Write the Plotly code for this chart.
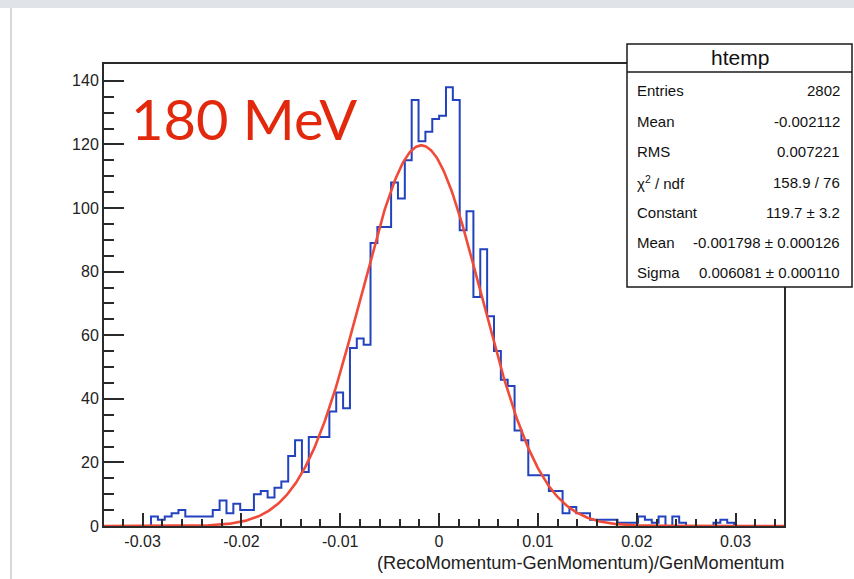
import numpy as np
import plotly.graph_objects as go

# ---- histogram "htemp": 100 bins starting at BIN_START ----
BIN_START = -0.034
BIN_WIDTH = 0.000694
COUNTS = [
    0, 0, 0, 0, 0, 0, 0, 3, 2, 3,
    4, 5, 3, 3, 3, 3, 5, 8, 4, 7,
    5, 5, 10, 11, 9, 12, 14, 22, 27, 17,
    28, 28, 28, 36, 42, 37, 56, 59, 57, 89,
    94, 94, 108, 103, 115, 134, 121, 124, 128, 129,
    138, 134, 93, 99, 72, 87, 66, 55, 46, 44,
    30, 27, 16, 16, 16, 11, 11, 4, 6, 4,
    4, 2, 2, 2, 2, 1, 1, 1, 3, 2,
    1, 3, 0, 3, 1, 0, 0, 0, 0, 1,
    2, 1, 0, 0, 0, 0, 0, 0, 0, 0,
]

# ---- gaussian fit parameters ----
FIT_CONSTANT = 119.7
FIT_MEAN = -0.001798
FIT_SIGMA = 0.006081

# ---- axes ----
X_RANGE = [-0.0339, 0.0349]
Y_RANGE = [0, 145.3]
X_TICKS = [-0.03, -0.02, -0.01, 0.0, 0.01, 0.02, 0.03]
X_TICK_LABELS = ["-0.03", "-0.02", "-0.01", "0", "0.01", "0.02", "0.03"]
Y_TICKS = [0, 20, 40, 60, 80, 100, 120, 140]
Y_TICK_LABELS = ["0", "20", "40", "60", "80", "100", "120", "140"]
X_TITLE = "(RecoMomentum-GenMomentum)/GenMomentum"
ENERGY_LABEL = "180 MeV"

# ---- statistics box ----
STATS_TITLE = "htemp"
STATS_NAMES = ["Entries", "Mean", "RMS", "χ<sup>2</sup> / ndf",
               "Constant", "Mean", "Sigma"]
STATS_VALUES = ["2802", "-0.002112", "0.007221", "158.9 / 76",
                "119.7 ± 3.2", "-0.001798 ± 0.000126", "0.006081 ± 0.000110"]

# ---- page geometry (pixels) ----
W, H = 854, 579
L, R, T, B = 104, 784, 64, 526

def px(x):
    return (x - L) / (R - L)

def py(y):
    return (B - y) / (B - T)

FONT = "Liberation Sans, Arial, Helvetica, sans-serif"
INK = "#222222"

edges = BIN_START + BIN_WIDTH * np.arange(len(COUNTS) + 1)
step_y = COUNTS + [COUNTS[-1]]

xf = np.linspace(X_RANGE[0], X_RANGE[1], 600)
yf = FIT_CONSTANT * np.exp(-0.5 * ((xf - FIT_MEAN) / FIT_SIGMA) ** 2)

fig = go.Figure()
fig.add_trace(go.Scatter(
    x=edges, y=step_y, mode="lines", line_shape="hv",
    line=dict(color="#2343be", width=2), hoverinfo="skip"))
fig.add_trace(go.Scatter(
    x=xf, y=yf, mode="lines",
    line=dict(color="#f04a38", width=2.6), hoverinfo="skip"))

fig.update_layout(
    width=W, height=H,
    margin=dict(l=L, r=W - R, t=T, b=H - B, pad=0),
    paper_bgcolor="white", plot_bgcolor="white",
    showlegend=False,
    font=dict(family=FONT, color=INK),
)

fig.update_xaxes(
    range=X_RANGE, showgrid=False, zeroline=False,
    showline=True, linecolor="#2a2a2a", linewidth=2, mirror=True,
    ticks="inside", ticklen=13, tickwidth=1.5, tickcolor="#2a2a2a",
    tickmode="array", tickvals=X_TICKS, ticktext=X_TICK_LABELS,
    tickfont=dict(size=16, family=FONT, color=INK),
    minor=dict(ticks="inside", dtick=0.002, tick0=0, ticklen=7,
               tickwidth=1.5, tickcolor="#2a2a2a", showgrid=False),
)
fig.update_yaxes(
    range=Y_RANGE, showgrid=False, zeroline=False,
    showline=True, linecolor="#2a2a2a", linewidth=2, mirror=True,
    ticks="inside", ticklen=20, tickwidth=1.5, tickcolor="#2a2a2a",
    tickmode="array", tickvals=Y_TICKS, ticktext=Y_TICK_LABELS,
    tickfont=dict(size=16, family=FONT, color=INK),
    minor=dict(ticks="inside", dtick=5, tick0=0, ticklen=10,
               tickwidth=1.5, tickcolor="#2a2a2a", showgrid=False),
)

shapes = []
# slide decoration: top band and left rule
shapes.append(dict(type="rect", xref="paper", yref="paper",
                   x0=px(0), x1=px(W), y0=py(0), y1=py(8),
                   fillcolor="#e0e3e7", line=dict(width=0), layer="above"))
shapes.append(dict(type="rect", xref="paper", yref="paper",
                   x0=px(10), x1=px(12), y0=py(8), y1=py(H),
                   fillcolor="#d9d9d9", line=dict(width=0), layer="above"))
# statistics box
bx0, bx1, by0, by1, bsep = 627, 852, 44, 287, 72
shapes.append(dict(type="rect", xref="paper", yref="paper",
                   x0=px(bx0), x1=px(bx1), y0=py(by0), y1=py(by1),
                   fillcolor="white", line=dict(color="#1a1a1a", width=1.5),
                   layer="above"))
shapes.append(dict(type="line", xref="paper", yref="paper",
                   x0=px(bx0), x1=px(bx1), y0=py(bsep), y1=py(bsep),
                   line=dict(color="#1a1a1a", width=1.5), layer="above"))
fig.update_layout(shapes=shapes)

ann = []
ann.append(dict(text=STATS_TITLE, xref="paper", yref="paper",
                x=px((bx0 + bx1) / 2), y=py(57), xanchor="center", yanchor="middle",
                showarrow=False, font=dict(size=21, family=FONT, color="#111")))
row_y = [90.5, 121, 151.5, 182, 212.5, 242, 272]
for name, val, yy in zip(STATS_NAMES, STATS_VALUES, row_y):
    ann.append(dict(text=name, xref="paper", yref="paper",
                    x=px(635), y=py(yy), xanchor="left", yanchor="middle",
                    showarrow=False, font=dict(size=15, family=FONT, color="#111")))
    ann.append(dict(text=val, xref="paper", yref="paper",
                    x=px(842), y=py(yy), xanchor="right", yanchor="middle",
                    showarrow=False, font=dict(size=15, family=FONT, color="#111")))
ann.append(dict(text=X_TITLE, xref="paper", yref="paper",
                x=px(786), y=py(563), xanchor="right", yanchor="middle",
                showarrow=False, font=dict(size=18.2, family=FONT, color=INK)))
ann.append(dict(text=ENERGY_LABEL, xref="paper", yref="paper",
                x=px(129), y=py(118), xanchor="left", yanchor="middle",
                showarrow=False, font=dict(size=56, family="Lato, sans-serif",
                                           color="#e2290e")))
fig.update_layout(annotations=ann)

fig.write_html("out.html")
